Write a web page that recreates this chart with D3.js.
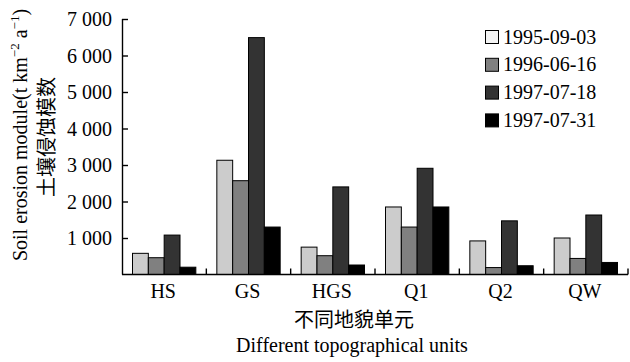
<!DOCTYPE html>
<html>
<head>
<meta charset="utf-8">
<script src="https://cdn.jsdelivr.net/npm/d3@7"></script>
<style>
  html, body { margin: 0; padding: 0; background: #fff; }
  svg { display: block; }
  .serif { font-family: "Liberation Serif", "Times New Roman", serif; }
  .cjk { font-family: "Noto Sans CJK SC", sans-serif; }
</style>
</head>
<body>
<svg id="chart" width="630" height="362"></svg>
<script>
// Topographic units on the x axis
const units = ["HS", "GS", "HGS", "Q1", "Q2", "QW"];
// Survey dates (one bar per date inside each unit)
const dates = ["1995-09-03", "1996-06-16", "1997-07-18", "1997-07-31"];
// Soil erosion modulus (t km^-2 a^-1) for each date, ordered like `units`
const s19950903 = [580, 3130, 750, 1850, 920, 1000];
const s19960616 = [460, 2570, 515, 1300, 190, 440];
const s19970718 = [1080, 6490, 2400, 2910, 1470, 1630];
const s19970731 = [200, 1300, 260, 1850, 240, 330];
const seriesValues = [s19950903, s19960616, s19970718, s19970731];
// Y axis tick values and their printed labels
const yTicks = [1000, 2000, 3000, 4000, 5000, 6000, 7000];
const yTickLabels = ["1 000", "2 000", "3 000", "4 000", "5 000", "6 000", "7 000"];

const barFill = ["#cccccc", "#808080", "#333333", "#000000"];
const legendFill = ["#f4f4f4", "#808080", "#333333", "#000000"];

const svg = d3.select("#chart");
const plot = { left: 122, right: 628, top: 19, bottom: 274.5 };

const x = d3.scaleBand().domain(units).range([plot.left, plot.right]).padding(0);
const xInner = d3.scaleBand().domain(dates)
  .range([10.5, x.bandwidth() - 10.5]).padding(0);
const y = d3.scaleLinear().domain([0, 7000]).range([plot.bottom, plot.top]);

// Bars
const rows = units.map((u, i) => ({ unit: u, vals: dates.map((d, k) => ({ date: d, k, v: seriesValues[k][i] })) }));
const groups = svg.append("g").selectAll("g").data(rows).join("g")
  .attr("transform", d => `translate(${x(d.unit)},0)`);
groups.selectAll("rect").data(d => d.vals).join("rect")
  .attr("x", d => xInner(d.date))
  .attr("y", d => y(d.v))
  .attr("width", xInner.bandwidth())
  .attr("height", d => y(0) - y(d.v))
  .attr("fill", d => barFill[d.k])
  .attr("stroke", "#000")
  .attr("stroke-width", 1);

// Y axis (ticks pointing inward)
const yAxis = d3.axisRight(y).tickValues(yTicks).tickSize(6)
  .tickFormat((d, i) => yTickLabels[i]);
const gy = svg.append("g").attr("transform", `translate(${plot.left},0)`).call(yAxis);
gy.select(".domain").attr("d", `M0.5,${plot.top}V${plot.bottom}`).attr("stroke", "#000").attr("stroke-width", 1.4);
gy.selectAll(".tick line").attr("stroke", "#000").attr("stroke-width", 1.4);
gy.selectAll(".tick text")
  .attr("x", -10).attr("dy", "0.34em")
  .attr("text-anchor", "end")
  .attr("class", "serif").attr("font-size", 20).attr("fill", "#000");
gy.attr("font-family", null).attr("font-size", null);

// X axis: baseline with short inward ticks at the unit boundaries
const gx = svg.append("g");
gx.append("line")
  .attr("x1", plot.left).attr("x2", plot.right)
  .attr("y1", plot.bottom).attr("y2", plot.bottom)
  .attr("stroke", "#000").attr("stroke-width", 1.4);
const boundaries = units.map(u => x(u) + x.bandwidth());
gx.selectAll("line.b").data(boundaries).join("line").attr("class", "b")
  .attr("x1", d => d).attr("x2", d => d)
  .attr("y1", plot.bottom).attr("y2", plot.bottom - 6)
  .attr("stroke", "#000").attr("stroke-width", 1.4);
gx.selectAll("text").data(units).join("text")
  .attr("class", "serif").attr("font-size", 20)
  .attr("x", d => x(d) + x.bandwidth() / 2 - 1)
  .attr("y", 298)
  .attr("text-anchor", "middle")
  .text(d => d);

// X axis titles
svg.append("text").attr("class", "cjk").attr("font-size", 20)
  .attr("x", 354).attr("y", 327).attr("text-anchor", "middle")
  .text("不同地貌单元");
svg.append("text").attr("class", "serif").attr("font-size", 20)
  .attr("x", 352).attr("y", 352).attr("text-anchor", "middle")
  .text("Different topographical units");

// Y axis titles (rotated)
const yt = svg.append("text").attr("class", "serif").attr("font-size", 20)
  .attr("transform", "translate(27,135) rotate(-90)")
  .attr("text-anchor", "middle");
yt.append("tspan").text("Soil erosion module(t km");
yt.append("tspan").attr("font-size", 13).attr("dy", -8).text("−2");
yt.append("tspan").attr("dy", 8).text(" a");
yt.append("tspan").attr("font-size", 13).attr("dy", -8).text("−1");
yt.append("tspan").attr("dy", 8).text(")");
svg.append("text").attr("class", "cjk").attr("font-size", 20)
  .attr("transform", "translate(54,137) rotate(-90)")
  .attr("text-anchor", "middle")
  .text("土壤侵蚀模数");

// Legend
const legend = svg.append("g").selectAll("g").data(dates).join("g")
  .attr("transform", (d, i) => `translate(485,${30 + i * 27.8})`);
legend.append("rect")
  .attr("x", 0.5).attr("y", 0.5).attr("width", 13).attr("height", 13)
  .attr("fill", (d, i) => legendFill[i]).attr("stroke", "#000").attr("stroke-width", 1);
legend.append("text").attr("class", "serif").attr("font-size", 20)
  .attr("x", 18).attr("y", 13.5)
  .text(d => d);
</script>
</body>
</html>
